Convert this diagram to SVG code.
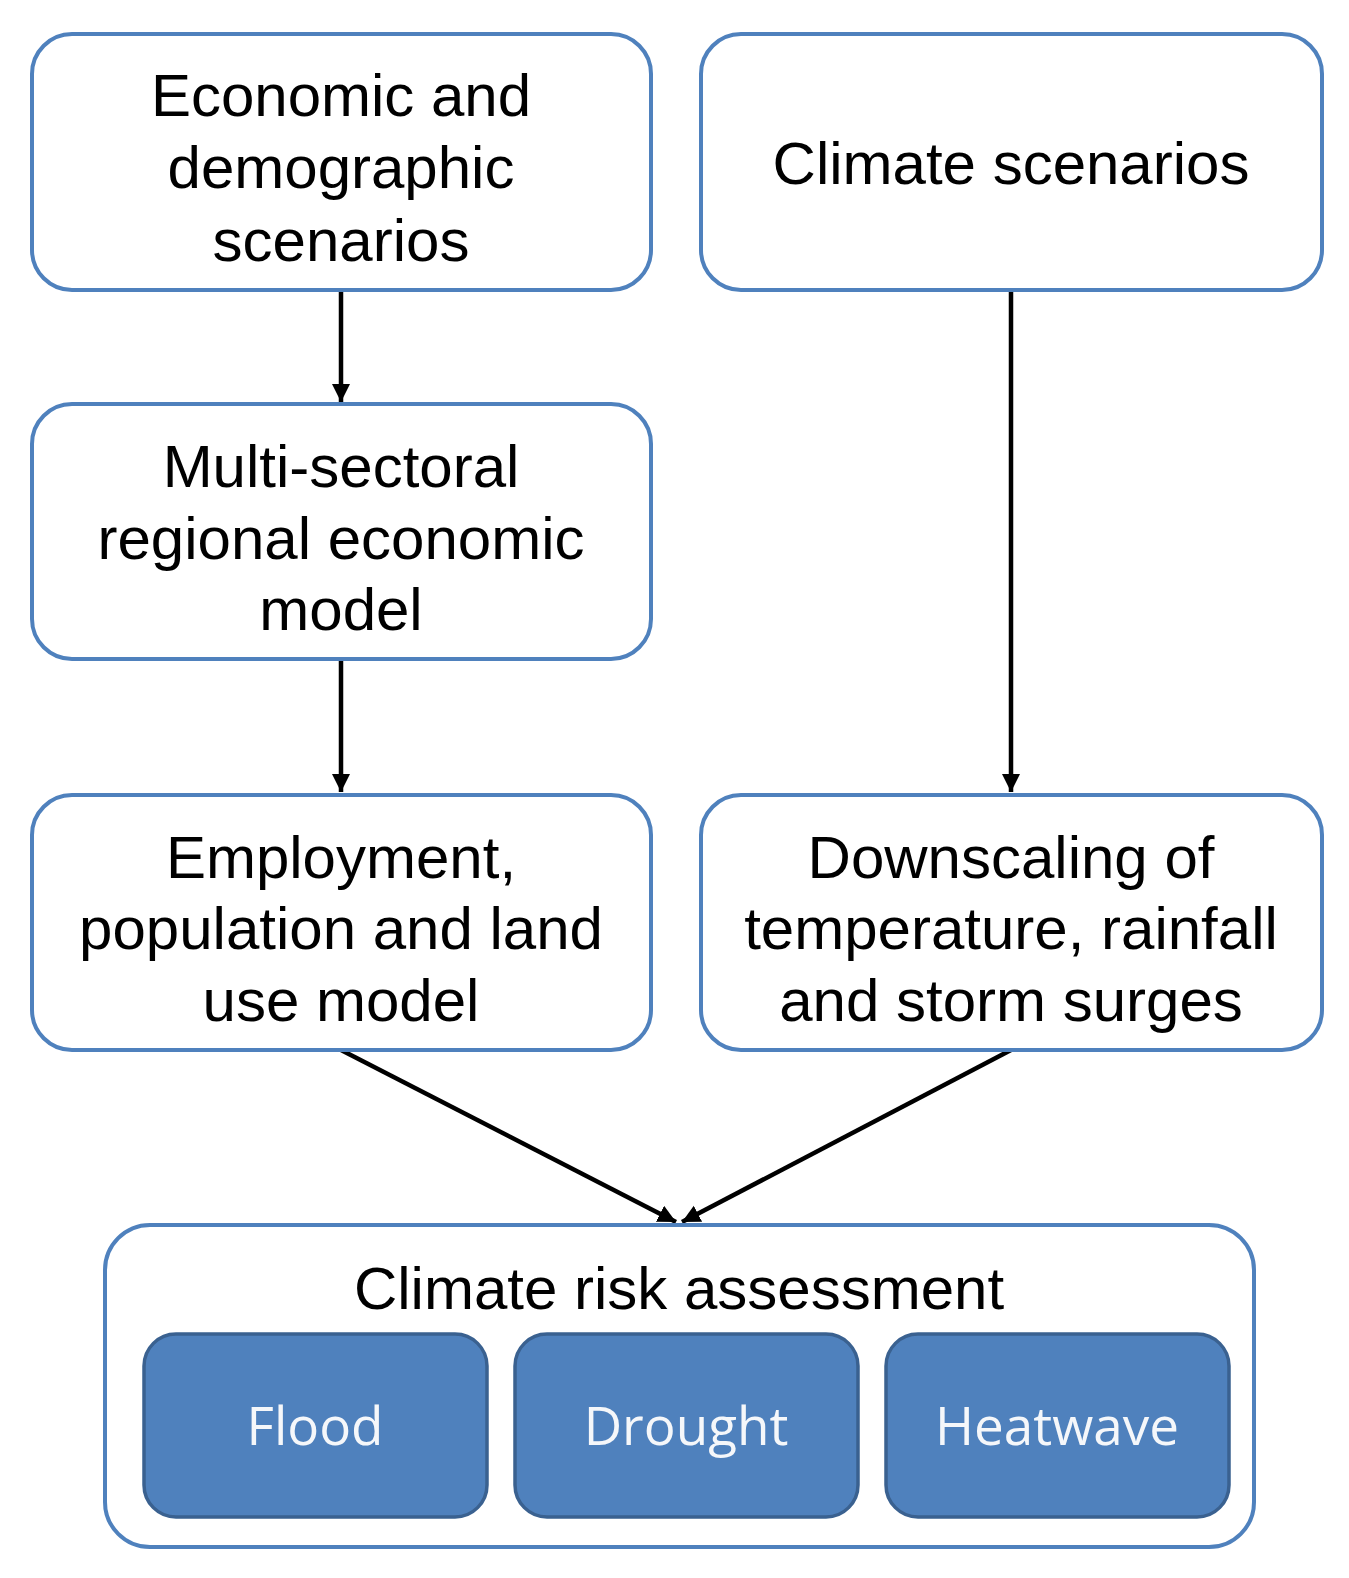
<svg xmlns="http://www.w3.org/2000/svg" width="1349" height="1578" viewBox="0 0 1349 1578">
<defs>
<style>
.box{fill:#fff;stroke:#4F81BD;stroke-width:4}
.sub{fill:#4F81BD;stroke:#3A6190;stroke-width:3.5}
.t{font-family:"Liberation Sans",Arial,sans-serif;font-size:60px;fill:#000;text-anchor:middle}
.w{font-family:"Open Sans","Noto Sans",sans-serif;font-size:53px;fill:#F5F7FA;text-anchor:middle}
.c{stroke:#000;stroke-width:4.5;fill:none;marker-end:url(#ah)}
</style>
<marker id="ah" markerWidth="4.2" markerHeight="4.2" refX="4" refY="2" orient="auto" markerUnits="strokeWidth">
<path d="M0,0 L4,2 L0,4 Z" fill="#000"/>
</marker>
</defs>
<rect width="1349" height="1578" fill="#fff"/>
<g id="connectors">
<line class="c" x1="341" y1="290" x2="341" y2="402"/>
<line class="c" x1="341" y1="659" x2="341" y2="792"/>
<line class="c" x1="1011" y1="290" x2="1011" y2="792"/>
<line class="c" x1="341" y1="1050" x2="676" y2="1222"/>
<line class="c" x1="1011" y1="1050" x2="682" y2="1222"/>
</g>
<g id="econ">
<rect class="box" x="32" y="34" width="619" height="256" rx="40"/>
<text class="t" x="341" y="116">Economic and</text>
<text class="t" x="341" y="188">demographic</text>
<text class="t" x="341" y="261">scenarios</text>
</g>
<g id="climate">
<rect class="box" x="701" y="34" width="621" height="256" rx="40"/>
<text class="t" x="1011" y="184">Climate scenarios</text>
</g>
<g id="multi">
<rect class="box" x="32" y="404" width="619" height="255" rx="40"/>
<text class="t" x="341" y="487">Multi-sectoral</text>
<text class="t" x="341" y="559">regional economic</text>
<text class="t" x="341" y="630">model</text>
</g>
<g id="employment">
<rect class="box" x="32" y="795" width="619" height="255" rx="40"/>
<text class="t" x="341" y="878">Employment,</text>
<text class="t" x="341" y="949">population and land</text>
<text class="t" x="341" y="1021">use model</text>
</g>
<g id="downscaling">
<rect class="box" x="701" y="795" width="621" height="255" rx="40"/>
<text class="t" x="1011" y="878">Downscaling of</text>
<text class="t" x="1011" y="949">temperature, rainfall</text>
<text class="t" x="1011" y="1021">and storm surges</text>
</g>
<g id="risk">
<rect class="box" x="105" y="1225" width="1149" height="322" rx="45"/>
<text class="t" x="679" y="1309">Climate risk assessment</text>
</g>
<g id="flood">
<rect class="sub" x="144" y="1334" width="343" height="183" rx="32"/>
<text class="w" x="315" y="1445">Flood</text>
</g>
<g id="drought">
<rect class="sub" x="515" y="1334" width="343" height="183" rx="32"/>
<text class="w" x="686" y="1445">Drought</text>
</g>
<g id="heatwave">
<rect class="sub" x="886" y="1334" width="343" height="183" rx="32"/>
<text class="w" x="1057" y="1445">Heatwave</text>
</g>
</svg>
